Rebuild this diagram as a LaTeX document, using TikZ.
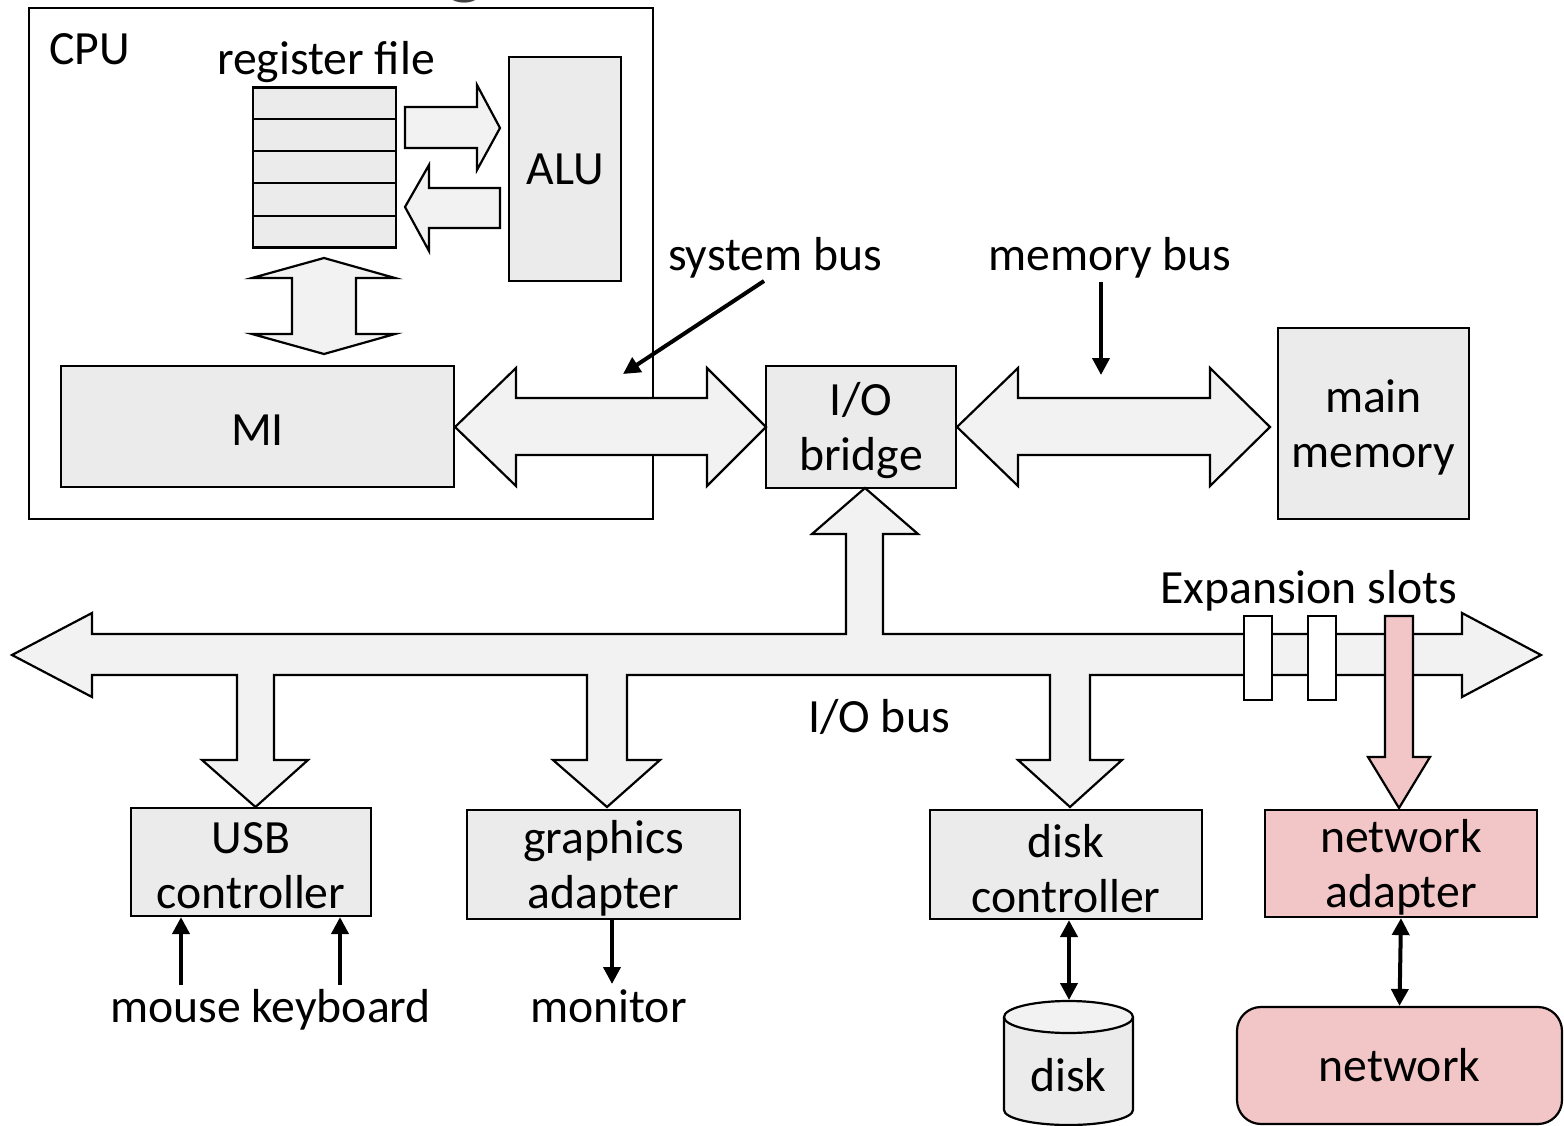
\documentclass[tikz,border=0pt]{standalone}
\usepackage{fontspec}
\setmainfont{Carlito}
\usetikzlibrary{arrows.meta}
\definecolor{boxgray}{HTML}{EBEBEB}
\definecolor{arrowgray}{HTML}{F2F2F2}
\definecolor{pinkfill}{HTML}{F2C6C6}
\definecolor{titlegray}{HTML}{404040}
\tikzset{
  x=1pt, y=-1pt,
  lbl/.style={font=\fontsize{47.7}{55}\selectfont, inner sep=0pt},
  box/.style={draw, line width=2.2pt, fill=boxgray, inner sep=0pt, align=center, lbl},
  pinkbox/.style={box, fill=pinkfill},
  twoline/.style={label={[lbl, align=center, yshift=-4pt]center:#1}},
  blockarrow/.style={draw, line width=2.2pt, fill=arrowgray, line join=miter},
  thinarrow/.style={line width=4pt, -{Triangle[length=17pt,width=17pt]}},
  thinboth/.style={line width=4pt, {Triangle[length=17pt,width=17pt]}-{Triangle[length=17pt,width=17pt]}},
}
\begin{document}
\begin{tikzpicture}
\useasboundingbox (0,0) rectangle (1564,1126);

% heading, mostly above the page
\node[font=\fontsize{80}{80}\selectfont\bfseries, text=titlegray, anchor=base, inner sep=0pt] (heading) at (465,-10) {g};

% CPU enclosure
\draw[line width=2.2pt, fill=white] (29,8) rectangle (653,519);
\node[lbl, anchor=base west] (cpulbl) at (49,65) {CPU};
\node[lbl, anchor=base] (reglbl) at (326,75) {register file};

% register file
\node[draw, line width=2.2pt, fill=boxgray, minimum width=143pt, minimum height=160pt, inner sep=0pt] (regfile) at (324.5,167.5) {};
\foreach \yy in {119,151,183,216}
  \draw[line width=2.2pt] (regfile.west |- 0,\yy) -- (regfile.east |- 0,\yy);

% ALU
\node[box, minimum width=112pt, minimum height=224pt] (alu) at (565,169) {ALU};

% register file <-> ALU
\draw[blockarrow] (405,107) -- (477,107) -- (477,85) -- (500,128) -- (477,170) -- (477,148) -- (405,148) -- cycle;
\draw[blockarrow] (500,188) -- (429,188) -- (429,165) -- (405,207) -- (429,251) -- (429,228) -- (500,228) -- cycle;

% register file <-> MI
\draw[blockarrow] (324,258) -- (395,278) -- (356,278) -- (356,334) -- (395,334) -- (324,354)
  -- (252,334) -- (292,334) -- (292,278) -- (252,278) -- cycle;

% MI, bridge, memory
\node[box, minimum width=393pt, minimum height=121pt, twoline={MI}] (mi) at (257.5,426.5) {};
\node[box, minimum width=190pt, minimum height=122pt, twoline={I/O\\bridge}] (bridge) at (861,427) {};
\node[box, minimum width=191pt, minimum height=191pt, twoline={main\\memory}] (mem) at (1373.5,423.5) {};

% system bus and memory bus
\draw[blockarrow] (455,427) -- (516,368) -- (516,398) -- (707,398) -- (707,368) -- (766,427)
  -- (707,486) -- (707,455) -- (516,455) -- (516,486) -- cycle;
\draw[blockarrow] (957,427) -- (1018,368) -- (1018,398) -- (1210,398) -- (1210,368) -- (1270,427)
  -- (1210,486) -- (1210,455) -- (1018,455) -- (1018,486) -- cycle;

\node[lbl, anchor=base west] (sysbus) at (668,270) {system bus};
\node[lbl, anchor=base west] (membus) at (988,270) {memory bus};
\coordinate (systail) at (764,281);
\coordinate (syshead) at (623,374);
\coordinate (memtail) at (1101,282);
\coordinate (memhead) at (1101,375);
\draw[thinarrow] (systail) -- (syshead);
\draw[thinarrow] (memtail) -- (memhead);

% I/O bus with its branches
\draw[blockarrow] (12,655) -- (92,613) -- (92,634) -- (846,634) -- (846,534) -- (812,534) -- (865,488)
  -- (918,534) -- (883,534) -- (883,634) -- (1462,634) -- (1462,613) -- (1541,655) -- (1462,697)
  -- (1462,675)
  -- (1090,675) -- (1090,760) -- (1122,760) -- (1070,807) -- (1018,760) -- (1050,760) -- (1050,675)
  -- (627,675) -- (627,760) -- (660,760) -- (607,807) -- (553,760) -- (587,760) -- (587,675)
  -- (274,675) -- (274,760) -- (308,760) -- (255.5,807) -- (202,760) -- (237,760) -- (237,675)
  -- (92,675) -- (92,697) -- cycle;

% expansion slots
\draw[line width=2.2pt, fill=white] (1244,616) rectangle (1272,700);
\draw[line width=2.2pt, fill=white] (1308,616) rectangle (1336,700);
\draw[line width=2.2pt, fill=pinkfill, line join=miter] (1385,616) -- (1413,616) -- (1413,757) -- (1430,757)
  -- (1399,808) -- (1368,757) -- (1385,757) -- cycle;

\node[lbl, anchor=base west] (explbl) at (1160,603) {Expansion slots};
\node[lbl, anchor=base west] (iobus) at (808,732) {I/O bus};

% controllers and adapters
\node[box, minimum width=240pt, minimum height=108pt, twoline={USB\\controller}] (usb) at (251,862) {};
\node[box, minimum width=273pt, minimum height=109pt, twoline={graphics\\adapter}] (gfx) at (603.5,864.5) {};
\node[box, minimum width=272pt, minimum height=109pt, twoline={disk\\controller}] (diskctl) at (1066,864.5) {};
\node[pinkbox, minimum width=272pt, minimum height=107pt, twoline={network\\adapter}] (netad) at (1401,863.5) {};

% devices
\node[lbl, anchor=base west] (kbd) at (110,1022) {mouse keyboard};
\node[lbl, anchor=base west] (monitor) at (530,1022) {monitor};
\coordinate (mousetail) at (181,985);
\coordinate (kbdtail) at (340,985);
\coordinate (monhead) at (612,984);
\draw[thinarrow] (mousetail) -- (mousetail |- usb.south);
\draw[thinarrow] (kbdtail) -- (kbdtail |- usb.south);
\draw[thinarrow] (monhead |- gfx.south) -- (monhead);

% disk drive
\draw[line width=2.2pt, fill=boxgray] (1004,1017) -- (1004,1110) arc[start angle=180, end angle=360, x radius=64.5pt, y radius=15pt]
  -- (1133,1017);
\draw[line width=2.2pt, fill=arrowgray] (1068.5,1017) ellipse[x radius=64.5pt, y radius=16pt];
\node[lbl] (disk) at (1068.5,1075) {disk};
\coordinate (disktop) at (1069,1000);
\draw[thinboth] (diskctl.south -| disktop) -- (disktop);

% network
\node[draw, line width=2.2pt, fill=pinkfill, rounded corners=24pt, minimum width=325pt, minimum height=117pt, lbl] (net) at (1399.5,1065.5) {network};
\draw[thinboth] (netad.south) -- (net.north);
\end{tikzpicture}
\end{document}
